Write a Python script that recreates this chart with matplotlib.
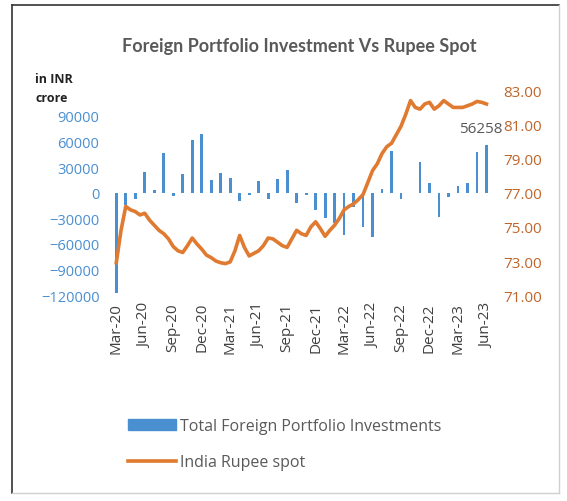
import numpy as np
import pandas as pd
import matplotlib
matplotlib.use("Agg")
import matplotlib.pyplot as plt
from matplotlib.lines import Line2D
from matplotlib.patches import Patch

# monthly FPI flows (INR crore), Mar-20 .. Jun-23
months = pd.date_range("2020-03-01", "2023-06-01", freq="MS")
fpi = [-118000, -14000, -7000, 24000, 3300, 46500, -3400, 22000, 62000, 68500,
       14600, 23000, 17300, -9700, -2700, 13300, -7300, 16500, 26500, -12400,
       -2500, -20000, -30000, -35500, -50000, -17000, -40000, -52000, 5000, 49000,
       -7600, -500, 36200, 11100, -28900, -5300, 7900, 11600, 48000, 56258]

# rupee spot, semi-monthly readings
rupee = [72.9, 74.8, 76.2, 76.0, 75.9, 75.7, 75.8, 75.4, 75.1, 74.8,
         74.6, 74.3, 73.85, 73.6, 73.5, 73.9, 74.35, 74.0, 73.7, 73.35,
         73.2, 73.0, 72.9, 72.85, 72.95, 73.6, 74.5, 73.8, 73.3, 73.45,
         73.6, 73.9, 74.35, 74.3, 74.1, 73.9, 73.8, 74.3, 74.8, 74.6,
         74.5, 75.0, 75.3, 74.9, 74.45, 74.8, 75.1, 75.5, 76.0, 76.2,
         76.35, 76.6, 76.9, 77.6, 78.3, 78.7, 79.3, 79.7, 79.9, 80.4,
         80.9, 81.6, 82.4, 82.0, 81.9, 82.2, 82.3, 81.9, 82.1, 82.4,
         82.2, 82.0, 82.0, 82.0, 82.1, 82.2, 82.35, 82.3, 82.2]

tick_labels = ["Mar-20", "Jun-20", "Sep-20", "Dec-20", "Mar-21", "Jun-21", "Sep-21",
               "Dec-21", "Mar-22", "Jun-22", "Sep-22", "Dec-22", "Mar-23", "Jun-23"]

blue = "#4A8FD0"
orange = "#E07A30"
grey = "#595959"

plt.rcParams["font.family"] = ["Open Sans", "DejaVu Sans"]

fig = plt.figure(figsize=(5.67, 5.02), dpi=100)
ax = fig.add_axes([0.19, 0.41, 0.683, 0.408])

x = np.arange(len(fpi))
ax.bar(x, fpi, width=0.3, color=blue)
ax.set_xlim(-0.9, 39.9)
ax.set_ylim(-120000, 120000)
ax.set_yticks(np.arange(-120000, 90001, 30000))
ax.tick_params(axis="y", colors=blue, labelsize=10.5, length=0, pad=6)
ax.set_xticks(np.arange(0, 40, 3))
ax.set_xticklabels(tick_labels, rotation=90, fontsize=11, color="#404040")
ax.tick_params(axis="x", length=0, pad=5)
for s in ax.spines.values():
    s.set_visible(False)

ax.annotate(str(fpi[-1]), (x[-1], fpi[-1]), xytext=(-4, 6), textcoords="offset points",
            ha="center", va="bottom", fontsize=11, color=grey)

ax2 = ax.twinx()
xr = np.arange(len(rupee)) * 0.5
ax2.plot(xr, rupee, color=orange, lw=2.6)
ax2.set_ylim(71, 83)
ax2.set_yticks(np.arange(71, 83.1, 2))
ax2.set_yticklabels([f"{v:.2f}" for v in np.arange(71, 83.1, 2)])
ax2.tick_params(axis="y", colors="#C0652A", labelsize=11, length=0, pad=6)
for s in ax2.spines.values():
    s.set_visible(False)

fig.text(0.528, 0.908, "Foreign Portfolio Investment Vs Rupee Spot", ha="center",
         va="center", fontsize=13, fontweight="bold", color=grey,
         family=["Lato", "DejaVu Sans"])
fig.text(0.062, 0.842, "in INR", fontsize=9, fontweight="bold", color="#222222", va="center")
fig.text(0.062, 0.803, "crore", fontsize=9, fontweight="bold", color="#222222", va="center")

handles = [Patch(color=blue), Line2D([0], [0], color=orange, lw=2.6)]
fig.legend(handles, ["Total Foreign Portfolio Investments", "India Rupee spot"],
           loc="center left", bbox_to_anchor=(0.2, 0.113), frameon=False,
           fontsize=11.5, labelcolor=grey, labelspacing=1.25, handlelength=3.0,
           handletextpad=0.3)

# frame round the figure
fig.add_artist(Line2D([0.021, 0.021], [0.016, 0.988], color="#333333", lw=1.2))
fig.add_artist(Line2D([0.021, 0.986], [0.988, 0.988], color="#333333", lw=1.2))
fig.add_artist(Line2D([0.986, 0.986], [0.016, 0.988], color="#d0d0d0", lw=1))
fig.add_artist(Line2D([0.021, 0.986], [0.016, 0.016], color="#d0d0d0", lw=1))

fig.savefig("out.png", dpi=100)
